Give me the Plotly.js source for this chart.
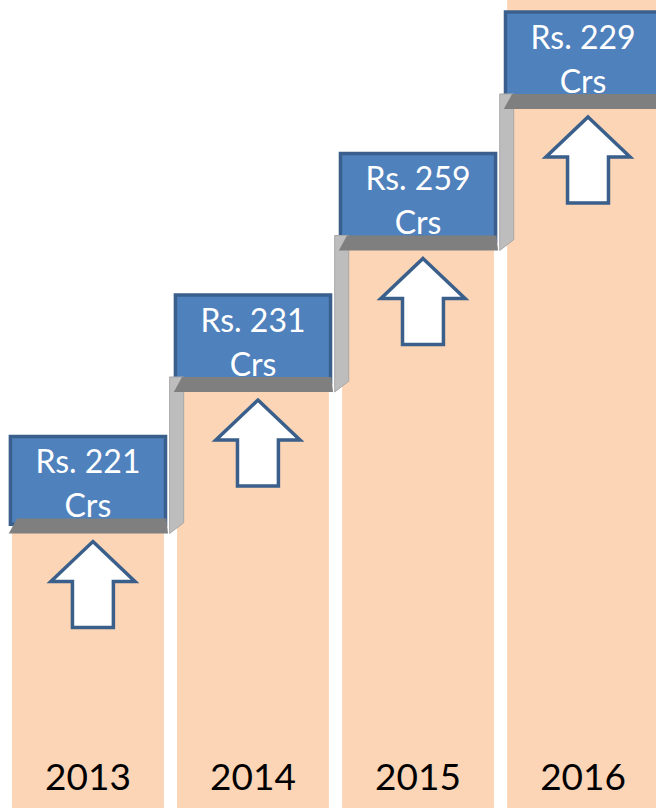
<!DOCTYPE html>
<html><head><meta charset="utf-8">
<script src="https://cdn.plot.ly/plotly-3.0.1.min.js"></script>
<style>html,body{margin:0;padding:0;background:#fff;}#chart{width:656px;height:808px;}</style>
</head><body><div id="chart"></div>
<script>
// ---- data ----
const years = ['2013', '2014', '2015', '2016'];
const values = [221, 231, 259, 229];
const valuePrefix = 'Rs. ';
const valueUnit = 'Crs';

// ---- layout geometry (axis units: 1 x unit = one column pitch, 1 y unit = one stair rise) ----
const X_RANGE = [-0.533, 3.442];
const Y_RANGE = [0, 5.71];
const FIRST_STEP = 2.046;   // top of the first ledge
const RISE = 1;             // each year is one stair higher
const LEDGE = 0.106;        // ledge thickness
const BOX_H = 0.58;         // height of blue value box above ledge top

const idx = years.map((_, i) => i);
const stepTop = idx.map(i => FIRST_STEP + i * RISE);
const colTop = idx.map(i => i === idx.length - 1 ? Y_RANGE[1] : stepTop[i] - LEDGE + 0.01);

const peach = '#FBD5B5';
const boxFill = '#4F81BD';
const boxLine = '#3B5F8C';
const ledgeCol = '#7F7F7F';
const riserCol = '#BDBDBD';
const arrowLine = '#3A5F8B';
const FONT = 'Lato, "Open Sans", sans-serif';

const traces = [
  { type: 'bar', x: idx, y: colTop, base: idx.map(() => 0), width: 0.92,
    marker: { color: peach, line: { width: 0 } }, hoverinfo: 'skip' },
  { type: 'bar', x: idx, y: idx.map(() => BOX_H + 0.04), base: stepTop.map(t => t - 0.04), width: 0.94,
    marker: { color: boxFill, line: { width: 3.5, color: boxLine } }, hoverinfo: 'skip' },
  { type: 'scatter', mode: 'text', x: idx, y: stepTop.map(t => t + 0.375),
    text: values.map(v => valuePrefix + v), cliponaxis: false,
    textfont: { family: FONT, size: 32, color: '#FFFFFF' }, hoverinfo: 'skip' },
  { type: 'scatter', mode: 'text', x: idx, y: stepTop.map(t => t + 0.065),
    text: idx.map(() => valueUnit), cliponaxis: false,
    textfont: { family: FONT, size: 32, color: '#FFFFFF' }, hoverinfo: 'skip' },
  { type: 'scatter', mode: 'text', x: idx, y: idx.map(() => 0.19),
    text: years, cliponaxis: false,
    textfont: { family: FONT, size: 37, color: '#000000' }, hoverinfo: 'skip' }
];

const shapes = [];
// risers (vertical faces between steps)
idx.forEach(i => {
  if (i === 0) return;
  const c = i, lo = stepTop[i - 1], hi = stepTop[i];
  shapes.push({ type: 'path', layer: 'above', xref: 'x', yref: 'y',
    path: `M ${c - 0.505} ${lo - LEDGE} L ${c - 0.42} ${lo - 0.03} L ${c - 0.42} ${hi} L ${c - 0.505} ${hi} Z`,
    fillcolor: riserCol, line: { width: 1, color: '#A8A8A8' } });
});
// ledges
idx.forEach(i => {
  const c = i, t = stepTop[i];
  shapes.push({ type: 'path', layer: 'above', xref: 'x', yref: 'y',
    path: `M ${c - 0.48} ${t - LEDGE} L ${c - 0.43} ${t} L ${c + 0.475} ${t} L ${c + 0.485} ${t - LEDGE} Z`,
    fillcolor: ledgeCol, line: { width: 0 } });
});
// up arrows
idx.forEach(i => {
  const cx = i + 0.03, t = stepTop[i];
  const tip = t - 0.163, hb = t - 0.445, bot = t - 0.77, hw = 0.255, sw = 0.124;
  shapes.push({ type: 'path', layer: 'above', xref: 'x', yref: 'y',
    path: `M ${cx} ${tip} L ${cx + hw} ${hb} L ${cx + sw} ${hb} L ${cx + sw} ${bot} L ${cx - sw} ${bot} L ${cx - sw} ${hb} L ${cx - hw} ${hb} Z`,
    fillcolor: '#FFFFFF', line: { width: 3.5, color: arrowLine } });
});

const layout = {
  width: 656, height: 808,
  margin: { l: 0, r: 0, t: 0, b: 0, pad: 0 },
  paper_bgcolor: '#FFFFFF', plot_bgcolor: '#FFFFFF',
  showlegend: false, barmode: 'overlay', hovermode: false,
  xaxis: { range: X_RANGE, visible: false, fixedrange: true },
  yaxis: { range: Y_RANGE, visible: false, fixedrange: true },
  shapes: shapes
};

Plotly.newPlot('chart', traces, layout, { staticPlot: true, displayModeBar: false });
</script>
</body></html>
